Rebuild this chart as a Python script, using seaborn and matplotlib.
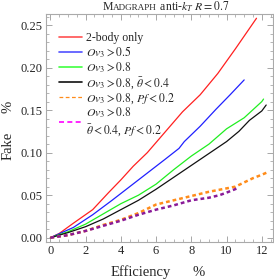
import numpy as np
import pandas as pd
import matplotlib
matplotlib.use("Agg")
import matplotlib.pyplot as plt
from matplotlib.lines import Line2D
from matplotlib.ticker import MultipleLocator
import seaborn as sns

# ---- data ----
red_x = [0, 0.5, 1.3, 2.4, 3.3, 4.0, 4.7, 5.5, 6.5, 7.5, 8.5, 9.5, 10.5, 11.7]
red_y = [0, 0.005, 0.017, 0.033, 0.053, 0.068, 0.084, 0.100, 0.124, 0.148, 0.168, 0.193, 0.222, 0.258]

blue_x = [0, 1.3, 2.4, 3.5, 4.0, 4.5, 5.5, 6.5, 7.3, 7.6, 8.5, 9.4, 10.2, 11.0]
blue_y = [0, 0.012, 0.027, 0.044, 0.052, 0.060, 0.076, 0.092, 0.105, 0.113, 0.131, 0.151, 0.168, 0.1855]

green_x = [0, 1, 2, 3, 4, 5, 6, 7, 8, 9, 10, 11, 12, 12.1]
green_y = [0, 0.007, 0.016, 0.028, 0.040, 0.050, 0.063, 0.080, 0.096, 0.110, 0.128, 0.141, 0.160, 0.163]

black_x = [0, 1, 2, 3, 4, 5, 6, 7, 8, 9, 10, 10.7, 11.3, 12, 12.25]
black_y = [0, 0.006, 0.013, 0.022, 0.033, 0.044, 0.057, 0.071, 0.085, 0.099, 0.113, 0.125, 0.138, 0.149, 0.156]

orange_x = [0, 1, 2, 3, 4, 5, 6, 7, 8, 9, 10, 10.5, 11, 11.5, 12, 12.4]
orange_y = [0, 0.003, 0.008, 0.015, 0.021, 0.029, 0.039, 0.044, 0.049, 0.054, 0.058, 0.060, 0.065, 0.070, 0.074, 0.0776]

purple_x = [0, 1, 2, 3, 4, 5, 6, 7, 8, 9, 9.6, 10, 10.6]
purple_y = [0, 0.003, 0.008, 0.014, 0.020, 0.027, 0.033, 0.038, 0.044, 0.047, 0.050, 0.053, 0.058]

labels = ["2-body only",
          r"$Ov_3 > 0.5$",
          r"$Ov_3 > 0.8$",
          r"$Ov_3 > 0.8$, $\bar{\theta} < 0.4$",
          r"$Ov_3 > 0.8$, $Pf < 0.2$",
          "$Ov_3 > 0.8$\n" + r"$\bar{\theta} < 0.4$, $Pf < 0.2$"]

x_ticks = [0, 2, 4, 6, 8, 10, 12]
y_ticks = [0.00, 0.05, 0.10, 0.15, 0.20, 0.25]

# ---- style ----
sns.set_style("ticks")
plt.rcParams["font.family"] = ["Liberation Serif", "DejaVu Serif"]
plt.rcParams["mathtext.fontset"] = "stix"

W, H = 274, 280
fig = plt.figure(figsize=(W / 100, H / 100), dpi=100)
ax = fig.add_axes([45.5 / W, 1 - 241.7 / H, (272.7 - 45.5) / W, (241.7 - 14) / H])

series = [
    (red_x, red_y, "#ff2020", "-", 0.9),
    (blue_x, blue_y, "#2020ff", "-", 0.9),
    (green_x, green_y, "#20ee20", "-", 0.9),
    (black_x, black_y, "#111111", "-", 0.9),
    (orange_x, orange_y, "#ff8c1a", (0, (1.5, 1.2)), 1.8),
    (purple_x, purple_y, "#8a1a98", (0, (1.5, 1.2)), 1.8),
]
for (xs, ys, c, ls, lw), lab in zip(series, labels):
    df = pd.DataFrame({"x": xs, "y": ys})
    sns.lineplot(data=df, x="x", y="y", ax=ax, color=c, linestyle=ls,
                 linewidth=lw, sort=False, estimator=None)

ax.set_xlim(-0.28, 12.62)
ax.set_ylim(-0.0047, 0.263)
ax.set_xticks(x_ticks)
ax.set_yticks(y_ticks)
ax.set_xticklabels([str(t) for t in x_ticks])
ax.set_yticklabels([f"{t:.2f}" for t in y_ticks])
ax.xaxis.set_minor_locator(MultipleLocator(0.5))
ax.yaxis.set_minor_locator(MultipleLocator(0.01))
ax.tick_params(which="both", direction="in", top=True, right=True,
               color="#999999", labelsize=9, pad=2.5)
ax.tick_params(which="major", length=4, width=0.6)
ax.tick_params(which="minor", length=2, width=0.5)
for s in ax.spines.values():
    s.set_color("#aaaaaa")
    s.set_linewidth(0.8)
ax.set_xlabel("")
ax.set_ylabel("")

# legend
handles = [
    Line2D([], [], color="#ff5050", lw=1.2),
    Line2D([], [], color="#5050ff", lw=1.2),
    Line2D([], [], color="#40ff40", lw=1.2),
    Line2D([], [], color="#111111", lw=1.2),
    Line2D([], [], color="#ff8c1a", lw=0.9, linestyle=(0, (3, 2))),
    Line2D([], [], color="#ff00ff", lw=1.2, linestyle=(0, (3, 2))),
]
fs = 8.5
leg = ax.legend(handles, labels, loc="upper left", bbox_to_anchor=(0.039, 0.94),
                frameon=False, fontsize=fs, handlelength=1.95, handletextpad=0.34,
                labelspacing=0.02, borderaxespad=0.0, borderpad=0.4)

# title (small caps imitation), chained with renderer extents
fig.canvas.draw()
r = fig.canvas.get_renderer()
base_y = 1 - 10 / H
parts = [("M", 8.5), ("ADGRAPH", 6.6), (r" anti-$k_T$ $R = 0.7$", 8.5)]
texts = []
for s, size in parts:
    t = fig.text(0.0, base_y, s, fontsize=size, ha="left", va="baseline")
    texts.append(t)
widths = [t.get_window_extent(r).width for t in texts]
total = sum(widths)
cur = 166 - total / 2
for t, w in zip(texts, widths):
    t.set_x(cur / W)
    cur += w

# axis labels
fig.text(8 / W, 1 - 146 / H, "Fake", rotation=90, fontsize=10.5,
         ha="center", va="center")
fig.text(8 / W, 1 - 107 / H, "%", rotation=90, fontsize=10.5,
         ha="center", va="center")
fig.text(141 / W, 1 - 272.5 / H, "Efficiency", fontsize=10.5,
         ha="center", va="center")
fig.text(198.5 / W, 1 - 272 / H, "%", fontsize=10.5, ha="center", va="center")

fig.savefig("out.png", dpi=100)
